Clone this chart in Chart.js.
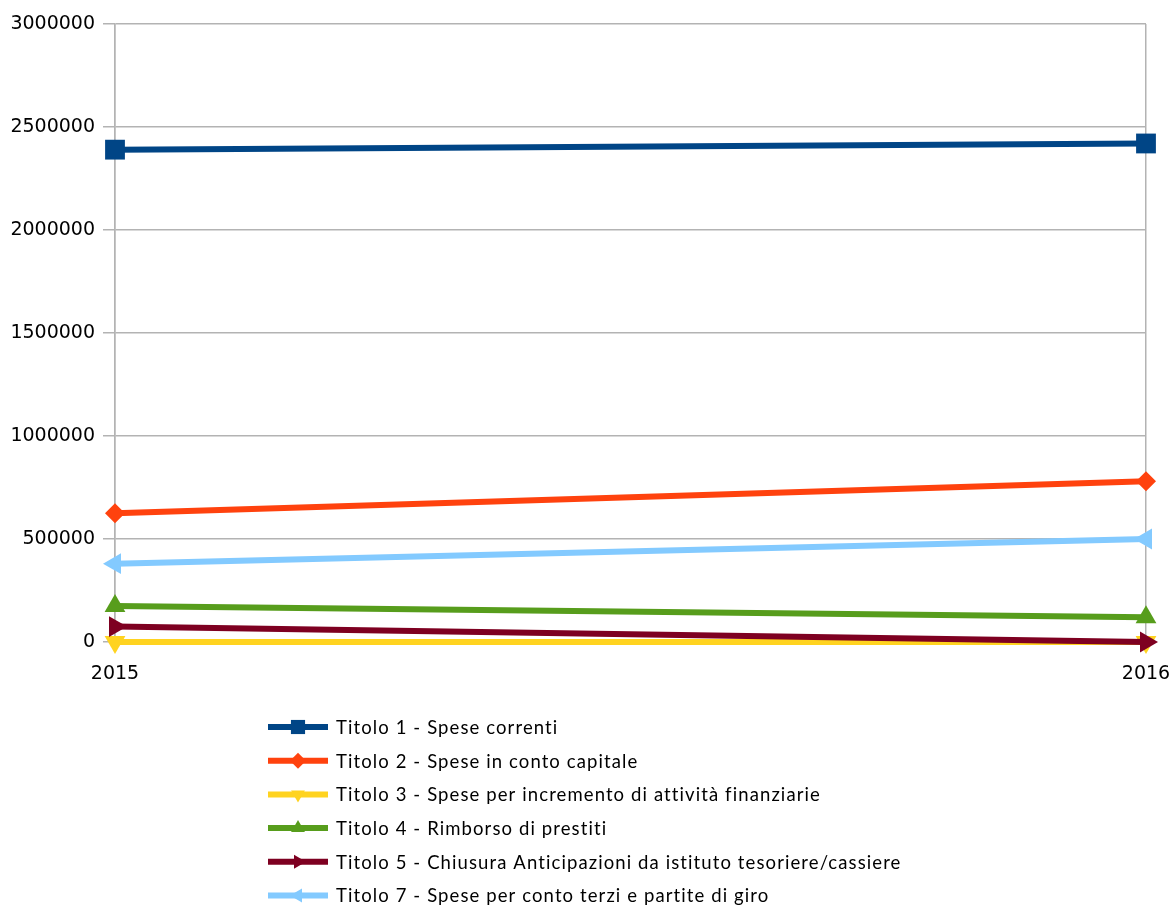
<!DOCTYPE html>
<html>
<head>
<meta charset="utf-8">
<script src="https://cdn.jsdelivr.net/npm/chart.js@4/dist/chart.umd.min.js"></script>
<style>
  html, body { margin: 0; padding: 0; background: #fff; }
  #wrap { width: 1169px; height: 906px; }
</style>
</head>
<body>
<div id="wrap"><canvas id="chart" width="1169" height="906"></canvas></div>
<script>
// ========= Data =========
const years = ["2015", "2016"];
const seriesNames = [
  "Titolo 1 - Spese correnti",
  "Titolo 2 - Spese in conto capitale",
  "Titolo 3 - Spese per incremento di attività finanziarie",
  "Titolo 4 - Rimborso di prestiti",
  "Titolo 5 - Chiusura Anticipazioni da istituto tesoriere/cassiere",
  "Titolo 7 - Spese per conto terzi e partite di giro"
];
const titolo1 = [2390000, 2420000];
const titolo2 = [625000, 780000];
const titolo3 = [0, 0];
const titolo4 = [175000, 120000];
const titolo5 = [75000, 0];
const titolo7 = [380000, 500000];
const yTicks = [0, 500000, 1000000, 1500000, 2000000, 2500000, 3000000];

// ========= Styles =========
const colors = ["#004586", "#ff420e", "#ffd320", "#579d1c", "#7e0021", "#83caff"];
const markers = [
  { style: "rect", rotation: 0, radius: 14 },
  { style: "rectRot", rotation: 0, radius: 10 },
  { style: "triangle", rotation: 180, radius: 12 },
  { style: "triangle", rotation: 0, radius: 12 },
  { style: "triangle", rotation: 90, radius: 12 },
  { style: "triangle", rotation: -90, radius: 12 }
];
const allValues = [titolo1, titolo2, titolo3, titolo4, titolo5, titolo7];

const datasets = allValues.map((vals, i) => ({
  label: seriesNames[i],
  data: vals,
  borderColor: colors[i],
  backgroundColor: colors[i],
  borderWidth: 6,
  pointStyle: markers[i].style,
  pointRotation: markers[i].rotation,
  pointRadius: markers[i].radius,
  pointBorderWidth: 0,
  pointHoverRadius: markers[i].radius,
  tension: 0,
  fill: false,
  clip: false,
  order: 6 - i
}));

// ========= Legend (vertical list below plot) =========
const listLegend = {
  id: "listLegend",
  afterDraw(chart) {
    const ctx = chart.ctx;
    const x0 = 268, lineW = 60, textX = 336, y0 = 727, step = 33.7;
    ctx.save();
    chart.data.datasets.forEach((ds, i) => {
      const y = y0 + i * step;
      ctx.strokeStyle = ds.borderColor;
      ctx.lineWidth = 6;
      ctx.beginPath();
      ctx.moveTo(x0, y);
      ctx.lineTo(x0 + lineW, y);
      ctx.stroke();
      ctx.fillStyle = ds.backgroundColor;
      Chart.helpers.drawPoint(ctx, {
        pointStyle: ds.pointStyle,
        rotation: ds.pointRotation,
        radius: ds.pointStyle === "rect" ? 10 : 8,
        borderWidth: 0
      }, x0 + lineW / 2, y);
      ctx.fillStyle = "#000";
      ctx.font = "18.5px Lato";
      ctx.letterSpacing = "1.1px";
      ctx.textBaseline = "middle";
      ctx.textAlign = "left";
      ctx.fillText(ds.label, textX, y + 1);
    });
    ctx.restore();
  }
};

new Chart(document.getElementById("chart"), {
  type: "line",
  data: { labels: years, datasets },
  plugins: [listLegend],
  options: {
    responsive: false,
    animation: false,
    layout: { padding: { top: 24, right: 23, left: 0, bottom: 0 } },
    plugins: { legend: { display: false }, tooltip: { enabled: false } },
    scales: {
      x: {
        offset: false,
        grid: { color: "#b3b3b3", lineWidth: 1.5, tickLength: 10 },
        border: { color: "#b3b3b3", width: 1.5 },
        ticks: { color: "#000", font: { family: "DejaVu Sans", size: 19 }, padding: 11, maxRotation: 0 },
        afterFit(scale) {
          scale.height = 264;
          scale.paddingLeft = 0;
          scale.paddingRight = 0;
        }
      },
      y: {
        min: 0,
        max: 3000000,
        afterBuildTicks(scale) { scale.ticks = yTicks.map(v => ({ value: v })); },
        grid: { color: "#b3b3b3", lineWidth: 1.5, tickLength: 12 },
        border: { color: "#b3b3b3", width: 1.5 },
        ticks: { color: "#000", font: { family: "DejaVu Sans", size: 19 }, padding: 8,
                 callback: v => String(v) },
        afterFit(scale) { scale.width = 115; }
      }
    }
  }
});
</script>
</body>
</html>
